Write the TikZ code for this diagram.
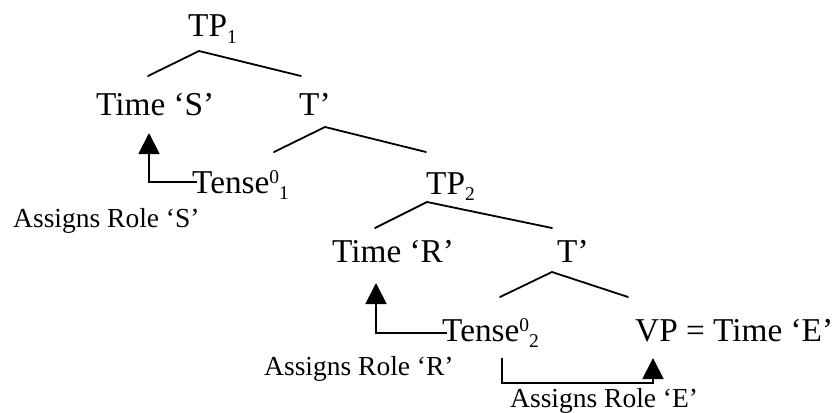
\documentclass[tikz,border=0pt]{standalone}
\usepackage{fontspec}
\setmainfont{Liberation Serif}
\usetikzlibrary{arrows.meta}
\newcommand\bigtxt{\fontsize{33.3}{33.3}\selectfont}
\newcommand\smalltxt{\fontsize{27.5}{27.5}\selectfont}
\newcommand\idxtxt{\fontsize{19.5}{19.5}\selectfont}
\newcommand\lowidx[1]{\raisebox{-6.5pt}{\idxtxt #1}}
\newcommand\highidx[1]{\raisebox{10pt}{\idxtxt #1}}
\begin{document}
\begin{tikzpicture}[x=1pt,y=-1pt,
  lbl/.style={anchor=base west,inner sep=0pt,font=\bigtxt},
  note/.style={anchor=base west,inner sep=0pt,font=\smalltxt},
  branch/.style={line width=1.8pt,line cap=round},
  role/.style={line width=1.8pt,-{Triangle[length=21pt,width=21pt]}}]
\useasboundingbox (0,0) rectangle (832,412);
% labels
\node[lbl] (tp1) at (188,37) {TP\lowidx{1}};
\node[lbl] (timeS) at (96,115) {Time ‘S’};
\node[lbl] (tb1) at (299,115) {T’};
\node[lbl] (tense1) at (192,193) {Tense\highidx{0}\lowidx{1}};
\node[lbl] (tp2) at (426,194) {TP\lowidx{2}};
\node[lbl] (timeR) at (332,262) {Time ‘R’};
\node[lbl] (tb2) at (557,262) {T’};
\node[lbl] (tense2) at (442,341) {Tense\highidx{0}\lowidx{2}};
\node[lbl] (vp) at (635,341) {VP = Time ‘E’};
\node[note] (asS) at (13,227) {Assigns Role ‘S’};
\node[note] (asR) at (264,375) {Assigns Role ‘R’};
\node[note] (asE) at (510,407) {Assigns Role ‘E’};
% branch points
\coordinate (tp1a) at (199,51);
\coordinate (timeSt) at (148,76);
\coordinate (tb1t) at (301,76);
\coordinate (tb1a) at (325,127);
\coordinate (tense1t) at (274,152);
\coordinate (tp2t) at (426,152);
\coordinate (tp2a) at (427,202);
\coordinate (timeRt) at (375,228);
\coordinate (tb2t) at (552,228);
\coordinate (tb2a) at (552,272);
\coordinate (tense2t) at (500,297);
\coordinate (vpt) at (628,297);
% arrow ends
\coordinate (s0) at (197,182);
\coordinate (s1) at (149,133);
\coordinate (r0) at (447,333);
\coordinate (r1) at (376,283);
\coordinate (e0) at (502,358);
\coordinate (e1) at (653,383);
\coordinate (e2) at (653,358);
% tree
\draw[branch] (timeSt) -- (tp1a) -- (tb1t);
\draw[branch] (tense1t) -- (tb1a) -- (tp2t);
\draw[branch] (timeRt) -- (tp2a) -- (tb2t);
\draw[branch] (tense2t) -- (tb2a) -- (vpt);
% role assignment
\draw[role] (s0) -| (s1);
\draw[role] (r0) -| (r1);
\draw[role] (e0) |- (e1) -- (e2);
\end{tikzpicture}
\end{document}
